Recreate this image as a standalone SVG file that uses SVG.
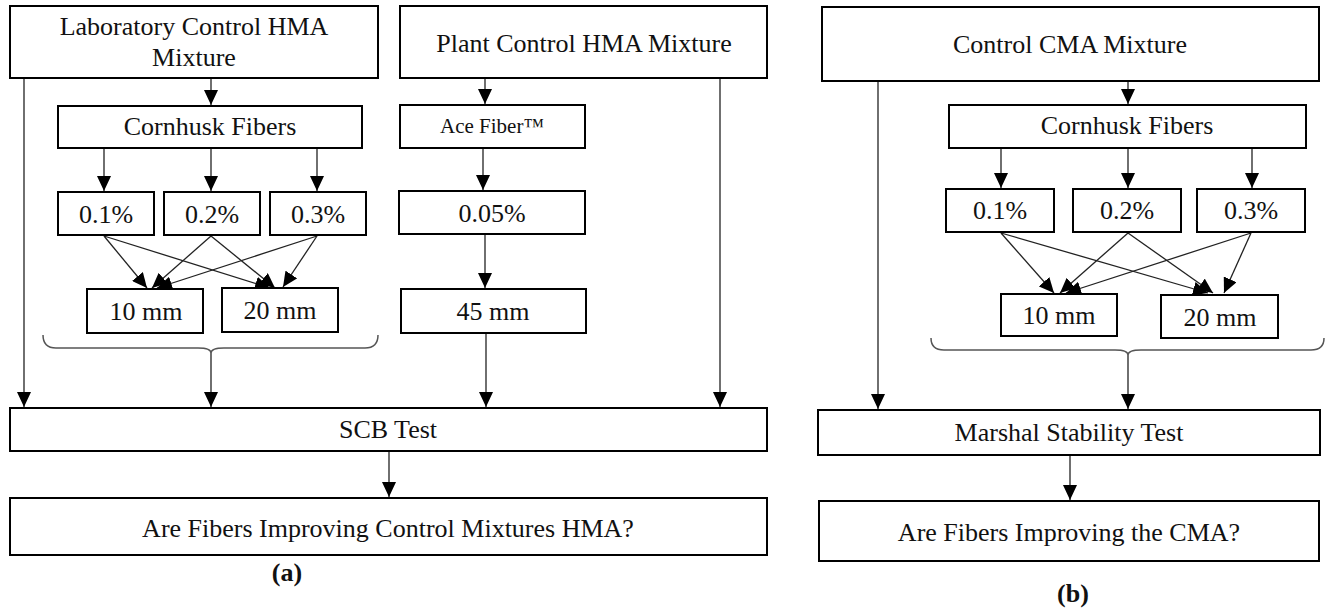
<svg xmlns="http://www.w3.org/2000/svg" width="1331" height="608" viewBox="0 0 1331 608">
<style>
.box{fill:#fff;stroke:#000;stroke-width:2}
.t{font-family:"Liberation Serif","Times New Roman",serif;font-size:26px;fill:#111;text-anchor:middle}
.s{font-size:21px}
.cap{font-weight:bold}
.ln{fill:none;stroke:#222;stroke-width:1.3}
.br{fill:none;stroke:#555;stroke-width:1.5}
</style>
<defs>
<marker id="ah" markerWidth="15" markerHeight="14" refX="15" refY="7" orient="auto" markerUnits="userSpaceOnUse"><path d="M0,0 L15,7 L0,14 z" fill="#000"/></marker>
</defs>
<rect width="1331" height="608" fill="#fff"/>
<g id="connectors">
<line class="ln" x1="211" y1="79" x2="211" y2="105" marker-end="url(#ah)"/>
<line class="ln" x1="104" y1="149" x2="104" y2="191" marker-end="url(#ah)"/>
<line class="ln" x1="211" y1="149" x2="211" y2="191" marker-end="url(#ah)"/>
<line class="ln" x1="317" y1="149" x2="317" y2="191" marker-end="url(#ah)"/>
<line class="ln" x1="104" y1="236" x2="147" y2="288" marker-end="url(#ah)"/>
<line class="ln" x1="104" y1="236" x2="270" y2="288" marker-end="url(#ah)"/>
<line class="ln" x1="211" y1="236" x2="152" y2="288" marker-end="url(#ah)"/>
<line class="ln" x1="211" y1="236" x2="275" y2="288" marker-end="url(#ah)"/>
<line class="ln" x1="317" y1="236" x2="157" y2="288" marker-end="url(#ah)"/>
<line class="ln" x1="317" y1="236" x2="283" y2="287" marker-end="url(#ah)"/>
<line class="ln" x1="24" y1="79" x2="24" y2="407" marker-end="url(#ah)"/>
<path class="br" d="M43,335 Q43,348 56,348 L198,348 Q211,348 211,353 Q211,348 224,348 L365,348 Q378,348 378,335"/>
<line class="ln" x1="211" y1="353" x2="211" y2="407" marker-end="url(#ah)"/>
<line class="ln" x1="485" y1="79" x2="485" y2="104" marker-end="url(#ah)"/>
<line class="ln" x1="483" y1="149" x2="483" y2="190" marker-end="url(#ah)"/>
<line class="ln" x1="485" y1="235" x2="485" y2="288" marker-end="url(#ah)"/>
<line class="ln" x1="486" y1="334" x2="486" y2="407" marker-end="url(#ah)"/>
<line class="ln" x1="720" y1="79" x2="720" y2="407" marker-end="url(#ah)"/>
<line class="ln" x1="389" y1="452" x2="389" y2="497" marker-end="url(#ah)"/>
<line class="ln" x1="1128" y1="74" x2="1128" y2="104" marker-end="url(#ah)"/>
<line class="ln" x1="1001" y1="149" x2="1001" y2="188" marker-end="url(#ah)"/>
<line class="ln" x1="1128" y1="149" x2="1128" y2="188" marker-end="url(#ah)"/>
<line class="ln" x1="1252" y1="149" x2="1252" y2="188" marker-end="url(#ah)"/>
<line class="ln" x1="1001" y1="233" x2="1054" y2="293" marker-end="url(#ah)"/>
<line class="ln" x1="1001" y1="233" x2="1208" y2="293" marker-end="url(#ah)"/>
<line class="ln" x1="1128" y1="233" x2="1060" y2="293" marker-end="url(#ah)"/>
<line class="ln" x1="1128" y1="233" x2="1213" y2="293" marker-end="url(#ah)"/>
<line class="ln" x1="1251" y1="233" x2="1066" y2="293" marker-end="url(#ah)"/>
<line class="ln" x1="1251" y1="233" x2="1224" y2="293" marker-end="url(#ah)"/>
<line class="ln" x1="878" y1="82" x2="878" y2="409" marker-end="url(#ah)"/>
<path class="br" d="M931,338 Q931,350 944,350 L1115,350 Q1128,350 1128,355 Q1128,350 1141,350 L1311,350 Q1324,350 1324,338"/>
<line class="ln" x1="1128" y1="355" x2="1128" y2="409" marker-end="url(#ah)"/>
<line class="ln" x1="1070" y1="456" x2="1070" y2="500" marker-end="url(#ah)"/>
</g>
<g id="lab"><rect class="box" x="10" y="6" width="368" height="72"/><text class="t" x="194" y="35">Laboratory Control HMA</text><text class="t" x="194" y="66">Mixture</text></g>
<g id="cornhusk-a"><rect class="box" x="58" y="106" width="304" height="42"/><text class="t" x="210" y="135">Cornhusk Fibers</text></g>
<g id="p01-a"><rect class="box" x="58" y="192" width="96" height="43"/><text class="t" x="106" y="223">0.1%</text></g>
<g id="p02-a"><rect class="box" x="164" y="192" width="96" height="43"/><text class="t" x="212" y="223">0.2%</text></g>
<g id="p03-a"><rect class="box" x="270" y="192" width="96" height="43"/><text class="t" x="318" y="223">0.3%</text></g>
<g id="mm10-a"><rect class="box" x="87" y="289" width="116" height="44"/><text class="t" x="146" y="320">10 mm</text></g>
<g id="mm20-a"><rect class="box" x="222" y="288" width="116" height="44"/><text class="t" x="280" y="319">20 mm</text></g>
<g id="plant"><rect class="box" x="400" y="6" width="367" height="72"/><text class="t" x="584" y="52">Plant Control HMA Mixture</text></g>
<g id="ace"><rect class="box" x="400" y="105" width="185" height="43"/><text class="t s" x="492" y="133">Ace Fiber™</text></g>
<g id="p005"><rect class="box" x="399" y="191" width="186" height="43"/><text class="t" x="492" y="222">0.05%</text></g>
<g id="mm45"><rect class="box" x="401" y="289" width="185" height="44"/><text class="t" x="493" y="320">45 mm</text></g>
<g id="scb"><rect class="box" x="10" y="408" width="757" height="43"/><text class="t" x="388" y="438">SCB Test</text></g>
<g id="q-a"><rect class="box" x="10" y="498" width="757" height="57"/><text class="t" x="388" y="537">Are Fibers Improving Control Mixtures HMA?</text></g>
<text class="t cap" x="287" y="581">(a)</text>
<g id="cma"><rect class="box" x="822" y="7" width="497" height="74"/><text class="t" x="1070" y="53">Control CMA Mixture</text></g>
<g id="cornhusk-b"><rect class="box" x="949" y="105" width="357" height="43"/><text class="t" x="1127" y="134">Cornhusk Fibers</text></g>
<g id="p01-b"><rect class="box" x="946" y="189" width="108" height="43"/><text class="t" x="1000" y="219">0.1%</text></g>
<g id="p02-b"><rect class="box" x="1073" y="189" width="108" height="43"/><text class="t" x="1127" y="219">0.2%</text></g>
<g id="p03-b"><rect class="box" x="1197" y="189" width="108" height="43"/><text class="t" x="1251" y="219">0.3%</text></g>
<g id="mm10-b"><rect class="box" x="1001" y="294" width="116" height="42"/><text class="t" x="1059" y="324">10 mm</text></g>
<g id="mm20-b"><rect class="box" x="1161" y="295" width="117" height="43"/><text class="t" x="1220" y="326">20 mm</text></g>
<g id="marshal"><rect class="box" x="818" y="410" width="502" height="45"/><text class="t" x="1069" y="441">Marshal Stability Test</text></g>
<g id="q-b"><rect class="box" x="819" y="501" width="500" height="60"/><text class="t" x="1069" y="541">Are Fibers Improving the CMA?</text></g>
<text class="t cap" x="1073" y="602">(b)</text>
</svg>
